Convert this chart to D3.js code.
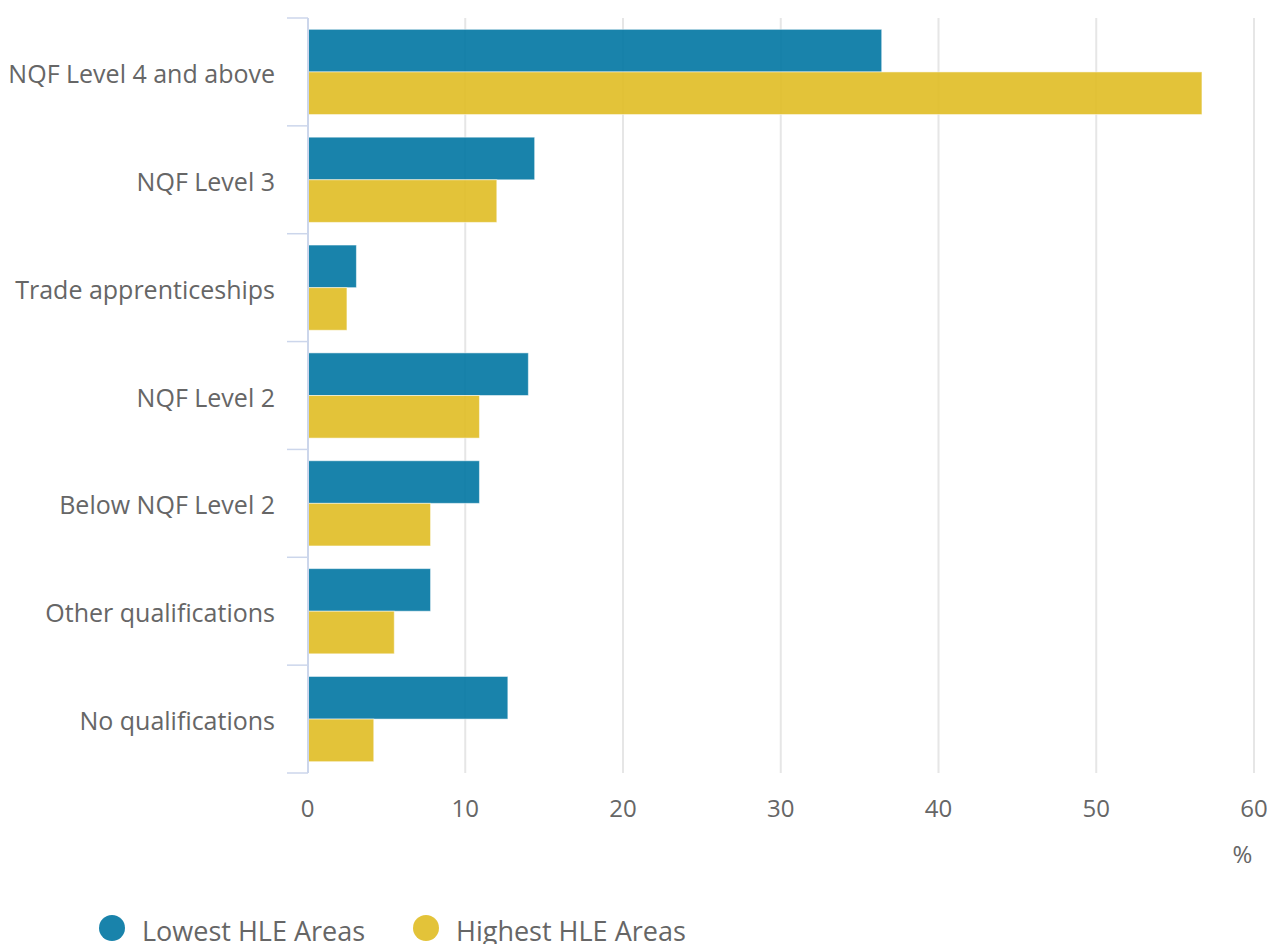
<!DOCTYPE html>
<html><head><meta charset="utf-8">
<script src="https://cdn.jsdelivr.net/npm/d3@7/dist/d3.min.js"></script>
<style>body{margin:0;background:#fff;font-family:"Open Sans",sans-serif;} svg{display:block;}</style>
</head><body>
<svg id="c" width="1267" height="944"></svg>
<script>
const categories = ["NQF Level 4 and above","NQF Level 3","Trade apprenticeships","NQF Level 2","Below NQF Level 2","Other qualifications","No qualifications"];
const seriesNames = ["Lowest HLE Areas","Highest HLE Areas"];
const lowest = [36.4, 14.4, 3.1, 14.0, 10.9, 7.8, 12.7];
const highest = [56.7, 12.0, 2.5, 10.9, 7.8, 5.5, 4.2];
const xTicks = [0,10,20,30,40,50,60];
const colors = ["#0075a2","#e0bc23"];

const svg = d3.select("#c");
const L = 307.5, R = 1254, T = 18, B = 773;
const x = d3.scaleLinear().domain([0,60]).range([L,R]);
const y = d3.scaleBand().domain(categories).range([T,B]).padding(0);
const gp = 0.105*y.bandwidth();
const inner = d3.scaleBand().domain(seriesNames).range([gp, y.bandwidth()-gp]).padding(0);

// gridlines
svg.append("g").selectAll("line").data(xTicks.slice(1)).join("line")
  .attr("x1",d=>x(d)).attr("x2",d=>x(d)).attr("y1",T).attr("y2",B)
  .attr("stroke","#e6e6e6").attr("stroke-width",2);

// bars
const data = [lowest, highest];
const g = svg.append("g");
seriesNames.forEach((s,si)=>{
  g.append("g").selectAll("rect").data(categories).join("rect")
    .attr("x",x(0)).attr("y",(c)=>y(c)+inner(s))
    .attr("width",(c,i)=>x(data[si][i])-x(0)).attr("height",inner.bandwidth())
    .attr("fill",colors[si]).attr("fill-opacity",0.9)
    .attr("stroke","#fff").attr("stroke-opacity",0.5).attr("stroke-width",1);
});

// y axis
const yAxis = svg.append("g");
yAxis.append("line").attr("x1",L+0.5).attr("x2",L+0.5).attr("y1",T).attr("y2",B)
  .attr("stroke","#ccd6eb").attr("stroke-width",2);
const bounds = categories.map(c=>y(c)).concat([B]);
yAxis.selectAll("line.tk").data(bounds).join("line").attr("class","tk")
  .attr("x1",287).attr("x2",L+0.5).attr("y1",d=>d).attr("y2",d=>d)
  .attr("stroke","#ccd6eb").attr("stroke-width",1.5);
yAxis.selectAll("text").data(categories).join("text")
  .attr("x",275).attr("y",c=>y(c)+y.bandwidth()/2+11)
  .attr("text-anchor","end").attr("fill","#666").attr("font-size",25).text(d=>d);

// x labels
svg.append("g").selectAll("text").data(xTicks).join("text")
  .attr("x",d=>x(d)).attr("y",817).attr("text-anchor","middle")
  .attr("fill","#666").attr("font-size",24).text(d=>d);
svg.append("text").attr("x",1242.5).attr("y",863).attr("text-anchor","middle")
  .attr("fill","#666").attr("font-size",24).text("%");

// legend
const legX = [112, 426];
seriesNames.forEach((s,i)=>{
  svg.append("circle").attr("cx",legX[i]).attr("cy",928).attr("r",13).attr("fill",colors[i]).attr("fill-opacity",0.9);
  svg.append("text").attr("x",legX[i]+30).attr("y",941).attr("fill","#666").attr("font-size",27).text(s);
});
</script>
</body></html>
